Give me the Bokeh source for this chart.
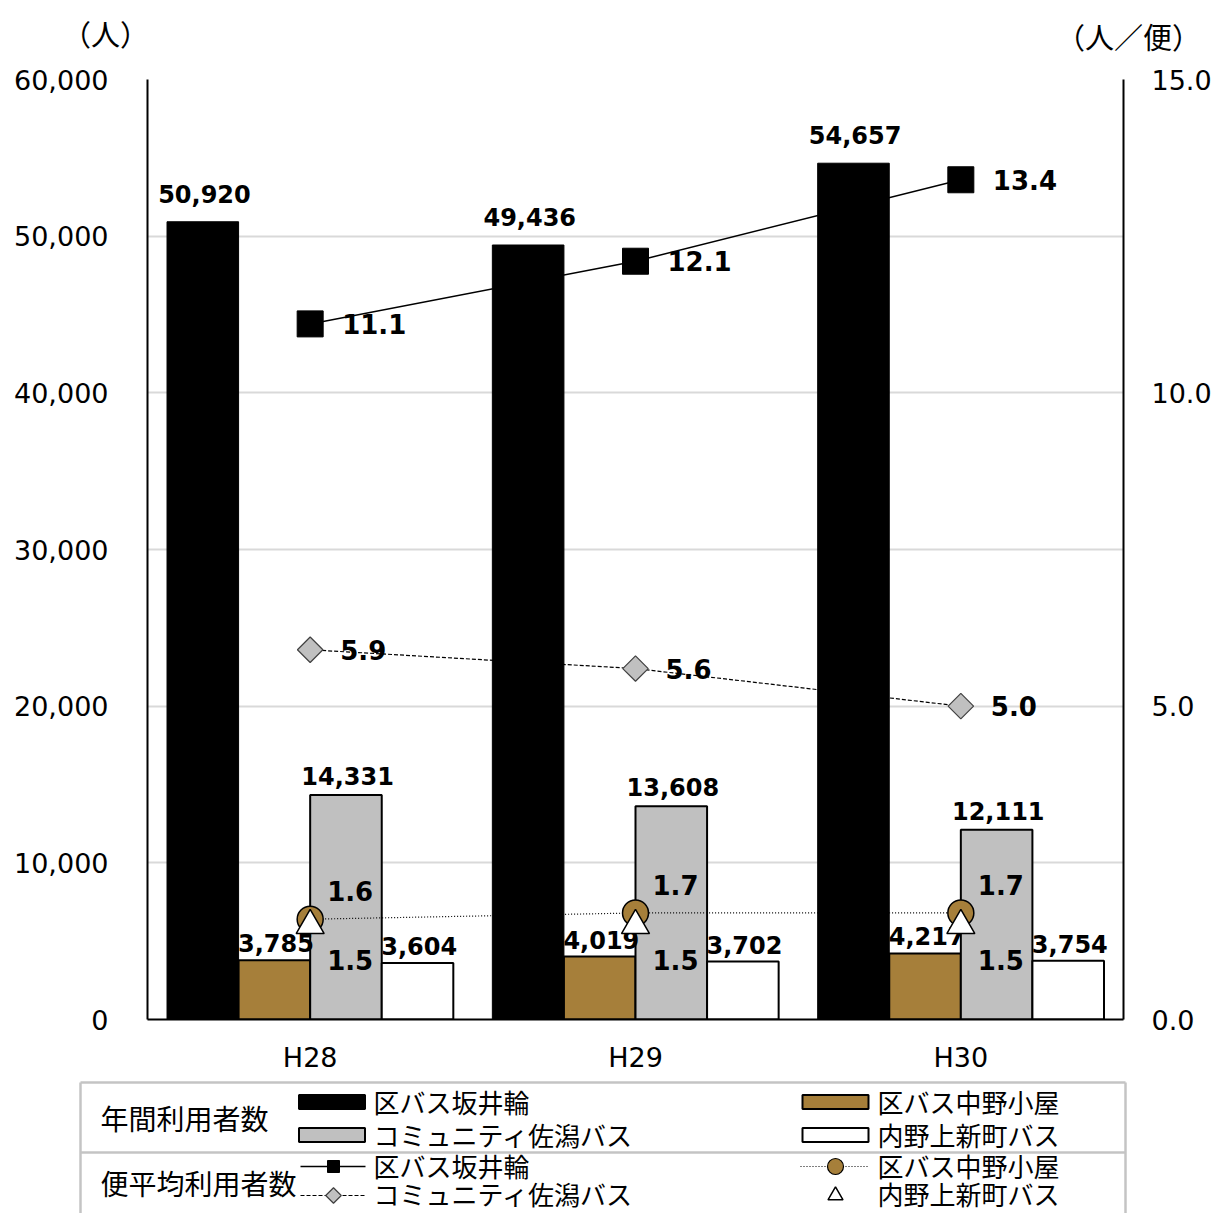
from bokeh.plotting import figure
from bokeh.models import (Range1d, LinearAxis, FactorRange, ColumnDataSource,
                          NumeralTickFormatter, SingleIntervalTicker)
from bokeh.transform import dodge
from bokeh.core.properties import value
from bokeh.embed import file_html
from bokeh.resources import INLINE
import numpy as np

years = ["H28", "H29", "H30"]
# 年間利用者数 (left axis)
sakaiwa = [50920, 49436, 54657]
nakano = [3785, 4019, 4217]
sakata = [14331, 13608, 12111]
uchino = [3604, 3702, 3754]
# 便平均利用者数 (right axis)
avg_sakaiwa = [11.1, 12.1, 13.4]
avg_sakata = [5.9, 5.6, 5.0]
avg_nakano = [1.6, 1.7, 1.7]
avg_uchino = [1.5, 1.5, 1.5]

names = ["区バス坂井輪", "区バス中野小屋", "コミュニティ佐潟バス", "内野上新町バス"]
groups = ["年間利用者数", "便平均利用者数"]
left_unit = "（人）"
right_unit = "（人／便）"

BROWN = "#A67F3A"
GRAY = "#C0C0C0"
CJK = "Noto Sans CJK JP"
NUM = "DejaVu Sans"
WIDTH = 1214

src = ColumnDataSource(dict(
    year=years,
    sakaiwa=sakaiwa, nakano=nakano, sakata=sakata, uchino=uchino,
    sakaiwa_t=[f"{v:,}" for v in sakaiwa],
    nakano_t=[f"{v:,}" for v in nakano],
    sakata_t=[f"{v:,}" for v in sakata],
    uchino_t=[f"{v:,}" for v in uchino],
    a_sakaiwa=avg_sakaiwa, a_sakata=avg_sakata, a_nakano=avg_nakano, a_uchino=avg_uchino,
    a_sakaiwa_t=[f"{v:.1f}" for v in avg_sakaiwa],
    a_sakata_t=[f"{v:.1f}" for v in avg_sakata],
    a_nakano_t=[f"{v:.1f}" for v in avg_nakano],
    a_uchino_t=[f"{v:.1f}" for v in avg_uchino],
))

# ---- top strip with unit labels (page pixel coordinates)
top = figure(x_range=Range1d(0, WIDTH), y_range=Range1d(55, 0), width=WIDTH, height=55,
             output_backend="svg", toolbar_location=None, min_border=0,
             x_axis_location=None, y_axis_location=None)
top.grid.visible = False
top.outline_line_color = None
top.text(x=[105, 1128], y=[32, 35], text=[left_unit, right_unit], text_align="center",
         text_baseline="middle", text_font=value(CJK), text_font_size="29px", text_color="black")

# ---- main chart
p = figure(x_range=FactorRange(*years), y_range=Range1d(0, 60000),
           width=WIDTH, height=1020, output_backend="svg", toolbar_location=None,
           min_border_left=147, min_border_right=90, min_border_top=24, min_border_bottom=55)
p.outline_line_color = None
p.xgrid.grid_line_color = None
p.ygrid.ticker = SingleIntervalTicker(interval=10000)
p.ygrid.grid_line_color = "#d9d9d9"
p.ygrid.grid_line_width = 2

p.yaxis.ticker = SingleIntervalTicker(interval=10000)
p.yaxis.formatter = NumeralTickFormatter(format="0,0")
p.extra_y_ranges = {"avg": Range1d(0, 15)}
ra = LinearAxis(y_range_name="avg", ticker=SingleIntervalTicker(interval=5),
                formatter=NumeralTickFormatter(format="0.0"))
p.add_layout(ra, "right")

for ax in [p.xaxis[0], p.yaxis[0], ra]:
    ax.axis_line_color = "black"
    ax.axis_line_width = 2
    ax.major_tick_line_color = None
    ax.minor_tick_line_color = None
    ax.major_tick_out = 0
    ax.minor_tick_out = 0
    ax.major_label_text_font = NUM
    ax.major_label_text_font_size = "27px"
    ax.major_label_text_color = "black"
p.yaxis[0].major_label_standoff = 39
ra.major_label_standoff = 28
p.xaxis[0].major_label_standoff = 22

W = 0.22
offs = [-0.33, -0.11, 0.11, 0.33]
cols = ["sakaiwa", "nakano", "sakata", "uchino"]
fills = ["black", BROWN, GRAY, "white"]
lab_off = [-28, -17, -19, -17]
for c, o, f in zip(cols, offs, fills):
    p.vbar(x=dodge("year", o, range=p.x_range), top=c, width=W, bottom=0, source=src,
           fill_color=f, line_color="black", line_width=2 if f != "black" else 1)
for c, o, yo in zip(cols, offs, lab_off):
    p.text(x=dodge("year", o + 0.005, range=p.x_range), y=c, text=c + "_t", source=src,
           text_align="center", text_baseline="middle", y_offset=yo,
           text_font=value(NUM), text_font_style="bold", text_font_size="24px",
           text_color="black")

# average lines
p.line(x="year", y="a_sakaiwa", source=src, y_range_name="avg", line_color="black", line_width=1.5)
p.line(x="year", y="a_sakata", source=src, y_range_name="avg", line_color="black", line_width=1.2,
       line_dash="4 2")
p.line(x="year", y="a_nakano", source=src, y_range_name="avg", line_color="black", line_width=1.2,
       line_dash="1 2")
p.scatter(x="year", y="a_sakaiwa", source=src, y_range_name="avg", marker="square", size=26,
          fill_color="black", line_color="black")
p.scatter(x="year", y="a_sakata", source=src, y_range_name="avg", marker="square", size=18,
          angle=np.pi / 4, fill_color=GRAY, line_color="#404040", line_width=1.2)
p.scatter(x="year", y="a_nakano", source=src, y_range_name="avg", marker="circle", size=26,
          fill_color=BROWN, line_color="black", line_width=1.5)
p.scatter(x="year", y="a_uchino", source=src, y_range_name="avg", marker="triangle", size=28,
          fill_color="white", line_color="black", line_width=1.5)

txt = dict(source=src, y_range_name="avg", text_font=value(NUM), text_font_style="bold",
           text_font_size="26px", text_color="black", text_baseline="middle")
p.text(x="year", y="a_sakaiwa", text="a_sakaiwa_t", text_align="left", x_offset=32, **txt)
p.text(x="year", y="a_sakata", text="a_sakata_t", text_align="left", x_offset=30, **txt)
p.text(x="year", y="a_nakano", text="a_nakano_t", text_align="center", x_offset=40, y_offset=-28, **txt)
p.text(x="year", y="a_uchino", text="a_uchino_t", text_align="center", x_offset=40, y_offset=34, **txt)

# ---- legend panel (page pixel coordinates)
leg = figure(x_range=Range1d(0, WIDTH), y_range=Range1d(1213, 1075), width=WIDTH, height=138,
             output_backend="svg", toolbar_location=None, min_border=0,
             x_axis_location=None, y_axis_location=None)
leg.grid.visible = False
leg.outline_line_color = None
leg.multi_line(xs=[[80, 80], [1125, 1125], [80, 1125], [80, 1125]],
               ys=[[1216, 1082], [1216, 1082], [1082, 1082], [1152, 1152]],
               line_color="#c4c4c4", line_width=2.5)
leg.rect(x=[331.5, 835, 331.5, 835], y=[1101.5, 1101.5, 1134.5, 1134.5], width=66, height=14,
         fill_color=["black", BROWN, GRAY, "white"], line_color="black", line_width=2)
leg.line(x=[300, 365], y=[1166, 1166], line_color="black", line_width=1.5)
leg.scatter(x=[333], y=[1166], marker="square", size=12, fill_color="black", line_color="black")
leg.line(x=[300, 365], y=[1195, 1195], line_color="black", line_width=1.2, line_dash="4 2")
leg.scatter(x=[333], y=[1195], marker="square", size=11, angle=np.pi / 4, fill_color=GRAY,
            line_color="#404040", line_width=1.2)
leg.line(x=[800, 868], y=[1166, 1166], line_color="black", line_width=1.2, line_dash="1 2")
leg.scatter(x=[835], y=[1166], marker="circle", size=16, fill_color=BROWN, line_color="black",
            line_width=1.2)
leg.scatter(x=[835], y=[1195], marker="triangle", size=15, fill_color="white", line_color="black",
            line_width=1.5)
leg.text(x=[373, 877, 373, 877, 373, 877, 373, 877],
         y=[1101, 1101, 1134, 1134, 1165, 1165, 1193, 1193],
         text=[names[0], names[1], names[2], names[3], names[0], names[1], names[2], names[3]],
         text_font=value(CJK), text_font_size="26px", text_baseline="middle", text_align="left",
         text_color="black")
leg.text(x=[100, 100], y=[1117, 1182], text=groups,
         text_font=value(CJK), text_font_size="28px", text_baseline="middle", text_align="left",
         text_color="black")

open("out.html", "w").write(file_html([top, p, leg], INLINE))
